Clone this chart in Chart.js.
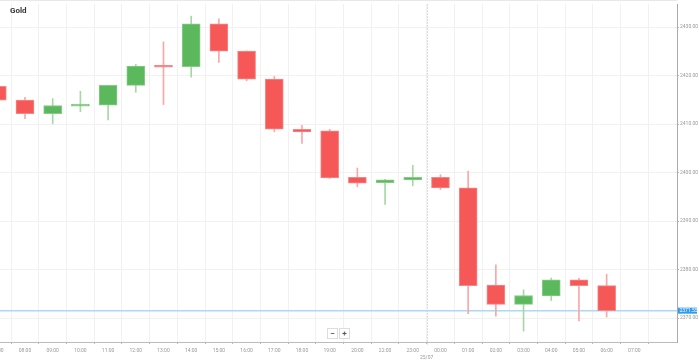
<!DOCTYPE html>
<html><head><meta charset="utf-8">
<script src="https://cdn.jsdelivr.net/npm/chart.js@4.4.1/dist/chart.umd.min.js"></script>
<style>
html,body{margin:0;padding:0;background:#fff;}
#wrap{position:relative;width:699px;height:361px;overflow:hidden;}
#title{position:absolute;left:10px;top:6px;font:bold 8px Roboto, sans-serif;color:#333;line-height:10px;}
.zb{position:absolute;top:328px;width:9px;height:9px;border:1px solid #ddd;background:#fff;font:bold 8px Roboto, sans-serif;color:#555;text-align:center;line-height:9px;}
</style></head>
<body><div id="wrap"><canvas id="c"></canvas><div id="title">Gold</div><div class="zb" style="left:327px">−</div><div class="zb" style="left:339px">+</div></div>
<script>
const labels = ['07:00','08:00','09:00','10:00','11:00','12:00','13:00','14:00','15:00','16:00','17:00','18:00','19:00','20:00','22:00','23:00','00:00','01:00','02:00','03:00','04:00','05:00','06:00','07:00'];
const opens  = [2417.78,2414.93,2412.14,2413.71,2413.91,2417.98,2422.06,2421.85,2430.67,2425.03,2419.27,2408.94,2408.62,2399.04,2397.94,2398.49,2399.04,2396.86,2376.84,2372.83,2374.60,2377.92,2376.70];
const highs  = [2418.20,2415.54,2415.25,2416.76,2418.05,2422.30,2426.95,2432.24,2431.69,2425.10,2419.82,2409.76,2408.94,2400.94,2398.60,2401.49,2399.57,2400.33,2380.98,2375.82,2378.27,2378.19,2379.08];
const lows   = [2414.60,2411.12,2410.10,2412.55,2410.85,2416.56,2414.03,2419.67,2422.73,2418.92,2408.41,2406.03,2398.80,2397.07,2393.46,2397.27,2396.52,2370.94,2370.39,2367.33,2373.64,2369.43,2370.25];
const closes = [2414.93,2412.14,2413.83,2413.97,2417.98,2421.98,2421.71,2430.67,2425.03,2419.27,2408.94,2408.41,2398.90,2397.82,2398.49,2399.04,2396.86,2376.70,2372.83,2374.67,2377.92,2376.70,2371.55];
const yTicks = [2370,2380,2390,2400,2410,2420,2430];
const lastPrice = 2371.55;
const dayLabel = '25/07';
const dayBreakIndex = 15.5;

const GREEN = '#5cb85c', RED = '#f65858';
const GREEN_B = '#86cc86', RED_B = '#f98686';
const GREEN_W = '#a6d8a6', RED_W = '#f8a8a8';
const up = closes.map((c,i)=> c >= opens[i]);

const bodies = opens.map((o,i)=>({x:i, y:[o, closes[i]]}));
const wicks = opens.map((o,i)=>({x:i, y:[lows[i], highs[i]]}));

const overlay = {
  id:'overlay',
  beforeDatasetsDraw(chart){
    const {ctx, chartArea:a, scales:{x,y}} = chart;
    ctx.save();
    ctx.strokeStyle='#e8e8e8'; ctx.lineWidth=1;
    ctx.beginPath(); ctx.moveTo(a.left, 0.5); ctx.lineTo(a.right, 0.5); ctx.stroke();
    const dx = Math.round(x.getPixelForValue(dayBreakIndex)) + 0.5;
    ctx.strokeStyle='#dddddd'; ctx.setLineDash([2,1]);
    ctx.beginPath(); ctx.moveTo(dx, a.top); ctx.lineTo(dx, a.bottom + 4); ctx.stroke();
    ctx.setLineDash([]);
    const py = y.getPixelForValue(lastPrice);
    ctx.strokeStyle='#aed8f6'; ctx.lineWidth=1.5;
    ctx.beginPath(); ctx.moveTo(a.left, py); ctx.lineTo(a.right, py); ctx.stroke();
    ctx.restore();
  },
  afterDraw(chart){
    const {ctx, chartArea:a, scales:{x,y}} = chart;
    ctx.save();
    ctx.fillStyle='#999'; ctx.font='5px Roboto'; ctx.textAlign='center'; ctx.textBaseline='middle';
    // first (partially hidden) hour label
    ctx.fillText(labels[0], x.getPixelForValue(0), 351);
    const dx = x.getPixelForValue(dayBreakIndex);
    ctx.fillText(dayLabel, dx, 358);
    const py = y.getPixelForValue(lastPrice);
    ctx.fillStyle='#2f9bef';
    ctx.fillRect(a.right + 1, py - 3, 19, 6);
    ctx.fillStyle='#fff'; ctx.textAlign='left';
    ctx.fillText(lastPrice.toFixed(2), a.right + 2.5, py + 0.3);
    ctx.restore();
  }
};

new Chart(document.getElementById('c'), {
  type:'bar',
  data:{
    datasets:[
      {data:bodies, grouped:false, barThickness:18, minBarLength:2,
       backgroundColor: up.map(u=>u?GREEN:RED), borderColor: up.map(u=>u?GREEN_B:RED_B), borderWidth:1, borderSkipped:false},
      {data:wicks, grouped:false, barThickness:1,
       backgroundColor: up.map(u=>u?GREEN_W:RED_W), borderWidth:0}
    ]
  },
  options:{
    responsive:true, maintainAspectRatio:false, animation:false,
    layout:{padding:0},
    plugins:{legend:{display:false}, tooltip:{enabled:false}, title:{display:false}},
    scales:{
      x:{type:'linear', min:0.0975, max:24.54, offset:false,
         afterBuildTicks(s){ s.ticks = labels.map((l,i)=>({value:i})).slice(1); },
         afterFit(s){ s.height = 19; s.paddingLeft = 0; s.paddingRight = 0; },
         grid:{color:'#f1f1f1', tickColor:'#bbb', tickLength:2, drawTicks:true},
         border:{display:true, color:'#bbb'},
         ticks:{autoSkip:false, maxRotation:0, padding:4, color:'#999', font:{size:5, family:'Roboto'},
                callback:(v)=>labels[v]}},
      y:{type:'linear', position:'right', min:2365.09, max:2434.75,
         afterBuildTicks(s){ s.ticks = yTicks.map(v=>({value:v})); },
         afterFit(s){ s.width = 22; },
         grid:{color:'#f1f1f1', tickColor:'#aaa', tickLength:2},
         border:{display:true, color:'#aaa'},
         ticks:{padding:1, color:'#999', font:{size:5, family:'Roboto'}, callback:(v)=>Number(v).toFixed(2)}}
    }
  },
  plugins:[overlay]
});
</script>
</body></html>
